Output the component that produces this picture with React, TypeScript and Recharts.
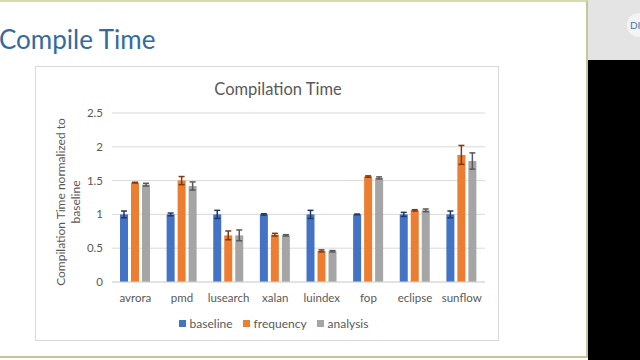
import React from 'react';
import { BarChart, Bar, XAxis, YAxis, CartesianGrid, Legend, ErrorBar } from 'recharts';

const benchmarks = ['avrora', 'pmd', 'lusearch', 'xalan', 'luindex', 'fop', 'eclipse', 'sunflow'];
const seriesNames = ['baseline', 'frequency', 'analysis'];
const baseline = [1, 1, 1, 1, 1, 1, 1, 1];
const baselineErr = [0.05, 0.02, 0.06, 0.01, 0.06, 0.005, 0.03, 0.05];
const frequency = [1.47, 1.5, 0.69, 0.7, 0.46, 1.56, 1.06, 1.88];
const frequencyErr = [0.005, 0.06, 0.065, 0.02, 0.015, 0.01, 0.01, 0.14];
const analysis = [1.44, 1.42, 0.69, 0.69, 0.455, 1.54, 1.06, 1.79];
const analysisErr = [0.02, 0.06, 0.08, 0.01, 0.01, 0.015, 0.02, 0.12];
const yTicks = [0, 0.5, 1, 1.5, 2, 2.5];

const data = benchmarks.map((name, i) => ({
  name,
  baseline: baseline[i],
  baselineErr: baselineErr[i],
  frequency: frequency[i],
  frequencyErr: frequencyErr[i],
  analysis: analysis[i],
  analysisErr: analysisErr[i],
}));

const FONT = 'Lato, "Open Sans", sans-serif';
const GREY_TEXT = '#595959';

export default function App() {
  return (
    <div style={{ position: 'absolute', left: 0, top: 0, width: 640, height: 360, overflow: 'hidden', background: '#fff', fontFamily: FONT }}>
      {/* slide frame */}
      <div style={{ position: 'absolute', left: 0, top: 0, width: 588, height: 358, boxSizing: 'border-box', borderTop: '2px solid #d8dbb0', borderRight: '2px solid #c4c79a', borderBottom: '2px solid #c4c79a', background: '#fff' }} />
      {/* side panel */}
      <div style={{ position: 'absolute', left: 588, top: 0, width: 52, height: 60, background: '#e4e4e4' }} />
      <div style={{ position: 'absolute', left: 588, top: 60, width: 52, height: 300, background: '#000' }} />
      <div style={{ position: 'absolute', left: 627, top: 13, width: 24, height: 24, borderRadius: 12, background: '#f4f4f4' }} />
      <div style={{ position: 'absolute', left: 630, top: 18, color: '#3b78b8', fontSize: 10, lineHeight: '14px' }}>DI</div>

      <div style={{ position: 'absolute', left: -1, top: 23, fontSize: 26, color: '#336a9f', whiteSpace: 'nowrap' }}>Compile Time</div>

      {/* chart box */}
      <div style={{ position: 'absolute', left: 35, top: 66, width: 464, height: 275, boxSizing: 'border-box', border: '1px solid #d9d9d9' }} />
      <div style={{ position: 'absolute', left: 35, top: 66, width: 464, height: 275 }}>
        <div style={{ position: 'absolute', left: 11, top: 13, width: 464, textAlign: 'center', fontSize: 16.5, color: GREY_TEXT }}>Compilation Time</div>
        <div style={{ position: 'absolute', left: 34 - 100, top: 136 - 16, width: 200, height: 32, textAlign: 'center', fontSize: 12, lineHeight: '15px', color: GREY_TEXT, transform: 'rotate(-90deg)' }}>
          Compilation Time normalized to<br />baseline
        </div>
        <BarChart width={464} height={275} data={data} margin={{ top: 47, right: 14, left: 37, bottom: 10 }} barSize={8} barGap={3}>
          <CartesianGrid vertical={false} stroke="#d9d9d9" />
          <XAxis dataKey="name" axisLine={{ stroke: '#d9d9d9' }} tickLine={false} tickMargin={6} height={30} tick={{ fill: GREY_TEXT, fontSize: 11.5, fontFamily: FONT }} />
          <YAxis width={40} domain={[0, 2.5]} ticks={yTicks} axisLine={false} tickLine={false} tickSize={0} tickMargin={9} tick={{ fill: GREY_TEXT, fontSize: 11.5, fontFamily: FONT }} />
          <Legend
            verticalAlign="bottom"
            iconType="square"
            iconSize={7}
            height={19}
            itemSorter={(item: { value: string }) => seriesNames.indexOf(item.value)}
            formatter={(v: string) => <span style={{ color: GREY_TEXT, fontSize: 12, fontFamily: FONT }}>{v}</span>}
          />
          <Bar dataKey="baseline" fill="#4472c4" isAnimationActive={false}>
            <ErrorBar dataKey="baselineErr" width={3} stroke="#1f3864" strokeWidth={1.5} />
          </Bar>
          <Bar dataKey="frequency" fill="#ed7d31" isAnimationActive={false}>
            <ErrorBar dataKey="frequencyErr" width={3} stroke="#7f3a0e" strokeWidth={1.5} />
          </Bar>
          <Bar dataKey="analysis" fill="#a5a5a5" isAnimationActive={false}>
            <ErrorBar dataKey="analysisErr" width={3} stroke="#595959" strokeWidth={1.5} />
          </Bar>
        </BarChart>
      </div>
    </div>
  );
}
